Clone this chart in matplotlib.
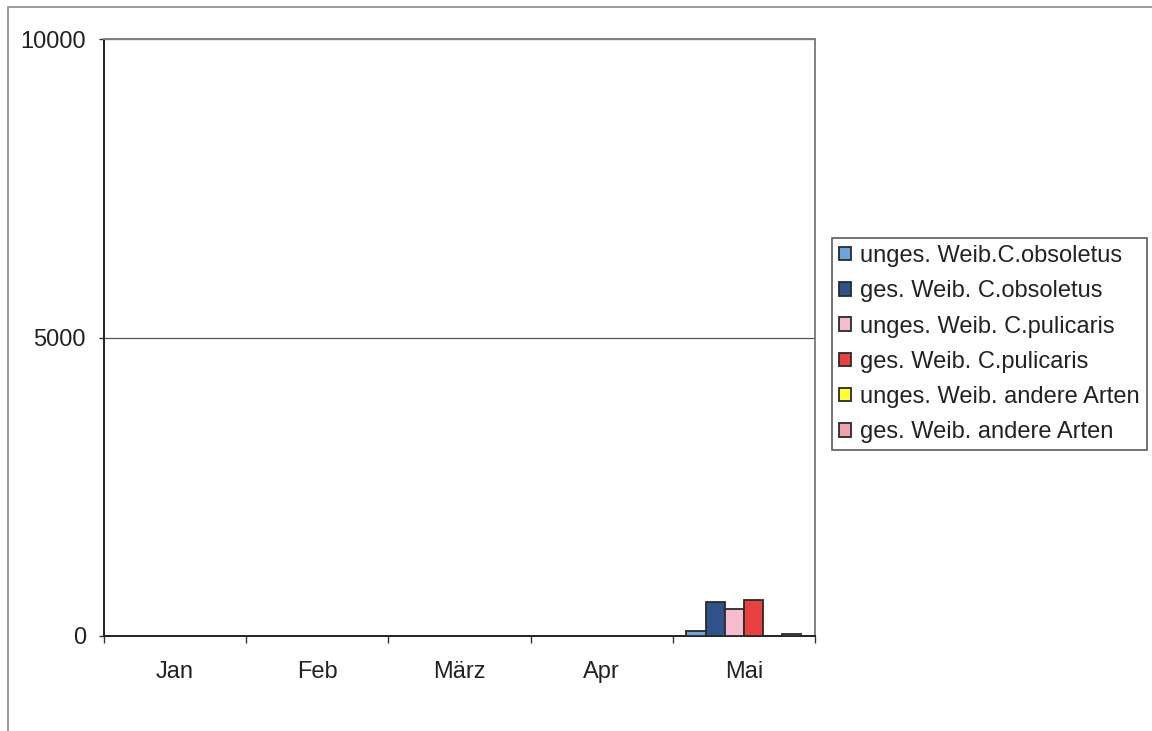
import matplotlib
matplotlib.use("Agg")
import matplotlib.pyplot as plt
import numpy as np
from matplotlib.patches import Rectangle

plt.rcParams['font.family'] = ['Liberation Sans', 'DejaVu Sans']

months = ["Jan", "Feb", "März", "Apr", "Mai"]
series_names = [
    "unges. Weib.C.obsoletus",
    "ges. Weib. C.obsoletus",
    "unges. Weib. C.pulicaris",
    "ges. Weib. C.pulicaris",
    "unges. Weib. andere Arten",
    "ges. Weib. andere Arten",
]
unges_obsoletus = [0, 0, 0, 0, 90]
ges_obsoletus = [0, 0, 0, 0, 570]
unges_pulicaris = [0, 0, 0, 0, 450]
ges_pulicaris = [0, 0, 0, 0, 600]
unges_andere = [0, 0, 0, 0, 0]
ges_andere = [0, 0, 0, 0, 40]
series = [unges_obsoletus, ges_obsoletus, unges_pulicaris,
          ges_pulicaris, unges_andere, ges_andere]
colors = ["#6aa6dc", "#2f5288", "#f5bcd0", "#e8413f", "#ffff33", "#f2a2ab"]

fig = plt.figure(figsize=(11.52, 7.31), dpi=100)
fig.patch.set_facecolor("white")

# chart frame around everything
fig.patches.append(Rectangle((8 / 1152, -0.2), 2, 1 - 7 / 731 + 0.2,
                             transform=fig.transFigure, fill=False,
                             edgecolor="#8a8a8a", lw=1.2, zorder=0))

ax = fig.add_axes([104 / 1152, 1 - 636 / 731, 711 / 1152, 597 / 731])

x = np.arange(len(months))
w = 0.135
for i, (vals, name, c) in enumerate(zip(series, series_names, colors)):
    ax.bar(x + (i - 2.5) * w, vals, width=w, color=c, edgecolor="#2a2a2a",
           lw=1.3, label=name, zorder=3)

ax.set_xlim(-0.5, len(months) - 0.5)
ax.set_ylim(0, 10000)
ax.set_yticks([0, 5000, 10000])
ax.yaxis.grid(True, color="#555555", lw=0.9, zorder=0)
ax.tick_params(axis="y", direction="out", length=3.5, width=1, labelsize=17,
               pad=9.5, color="#333333", labelcolor="#222222")

ax.set_xticks(np.arange(len(months) + 1) - 0.5)
ax.set_xticklabels([])
ax.set_xticks(x, minor=True)
ax.set_xticklabels(months, minor=True)
ax.tick_params(axis="x", which="major", direction="out", length=5, width=1,
               color="#333333")
ax.tick_params(axis="x", which="minor", length=0, labelsize=17, pad=18,
               labelcolor="#222222")

for side in ["left", "bottom"]:
    ax.spines[side].set_color("#222222")
    ax.spines[side].set_linewidth(1.4)
for side in ["top", "right"]:
    ax.spines[side].set_color("#808080")
    ax.spines[side].set_linewidth(1.4)

leg = fig.legend(loc="upper left", bbox_to_anchor=(832 / 1152, 1 - 238 / 731),
                 fontsize=17, frameon=True, fancybox=False, handlelength=0.5,
                 handleheight=0.5, handletextpad=0.4, labelspacing=0.56,
                 borderpad=0.3, borderaxespad=0)
leg.get_frame().set_edgecolor("#333333")
leg.get_frame().set_linewidth(1.2)
for t in leg.get_texts():
    t.set_color("#222222")

fig.savefig("out.png", dpi=100)
